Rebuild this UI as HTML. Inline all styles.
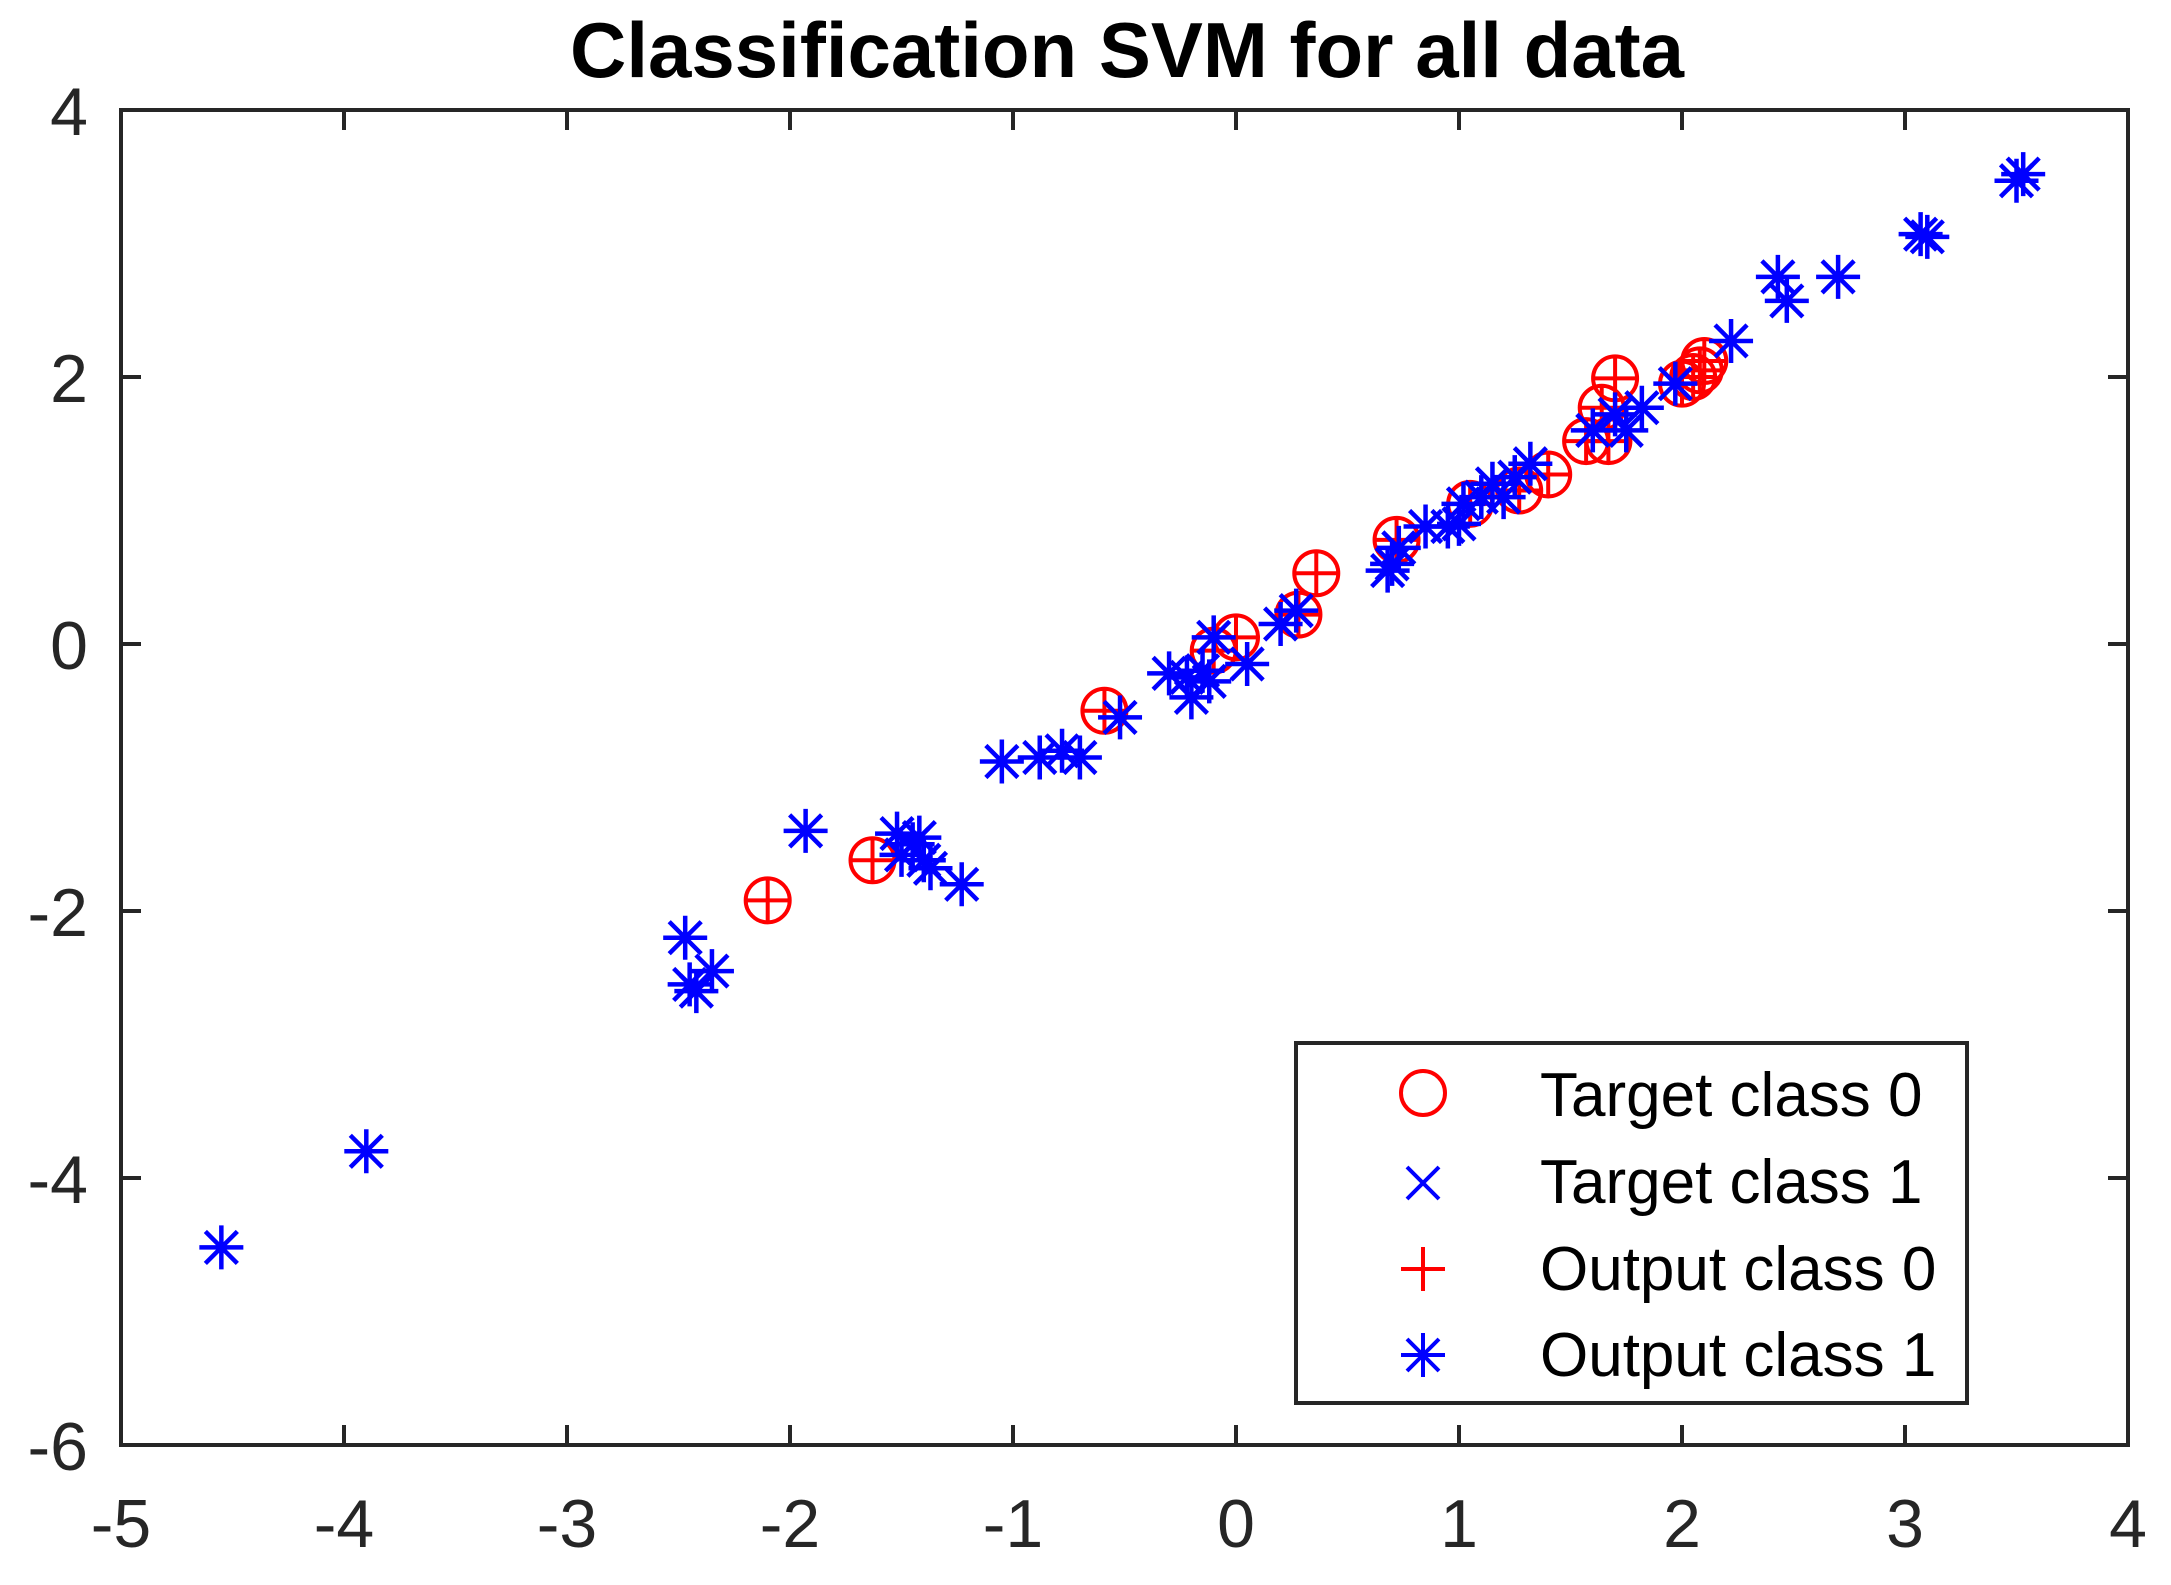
<!DOCTYPE html>
<html><head><meta charset="utf-8">
<style>
html,body{margin:0;padding:0;background:#fff;}
svg{display:block;font-family:"Liberation Sans",Arial,sans-serif;}
</style></head>
<body>
<svg id="chart" width="2171" height="1585" viewBox="0 0 2171 1585" xmlns="http://www.w3.org/2000/svg">
<rect width="2171" height="1585" fill="#fff"/>
<text x="1127" y="77" text-anchor="middle" font-size="78" font-weight="bold" fill="#000">Classification SVM for all data</text>
<g id="marks"></g>
<g id="axes"></g>
<g>
<rect x="1296" y="1043" width="671" height="360" fill="#fff" stroke="#262626" stroke-width="4"/>
<g>
<circle cx="1423" cy="1093" r="22" fill="none" stroke="#f00" stroke-width="4"/>
<text x="1540" y="1116" font-size="62" fill="#000">Target class 0</text></g>
<g>
<path d="M1407 1167 L1439 1199 M1439 1167 L1407 1199" stroke="#00f" stroke-width="4"/>
<text x="1540" y="1203" font-size="62" fill="#000">Target class 1</text></g>
<g>
<path d="M1401 1269 L1445 1269 M1423 1247 L1423 1291" stroke="#f00" stroke-width="4"/>
<text x="1540" y="1290" font-size="62" fill="#000">Output class 0</text></g>
<g>
<path d="M1401 1355 L1445 1355 M1423 1333 L1423 1377 M1407 1339 L1439 1371 M1439 1339 L1407 1371" stroke="#00f" stroke-width="4"/>
<text x="1540" y="1376" font-size="62" fill="#000">Output class 1</text></g>
</g>
</svg>
<script>
const class0X = [-2.1,-1.63,-0.59,-0.1,0.0,0.28,0.36,0.72,1.05,1.27,1.4,1.57,1.67,1.64,1.7,2.0,2.05,2.08,2.1];
const class0Y = [-1.92,-1.62,-0.5,-0.05,0.05,0.22,0.53,0.78,1.05,1.15,1.27,1.52,1.52,1.77,1.99,1.95,2.0,2.05,2.12];
const class1X = [-4.55,-3.9,-2.47,-2.45,-2.42,-2.35,-1.93,-1.52,-1.5,-1.45,-1.42,-1.4,-1.37,-1.23,-1.05,-0.88,-0.78,-0.7,-0.52,-0.3,-0.22,-0.2,-0.15,-0.12,-0.1,0.05,0.2,0.27,0.68,0.7,0.73,0.85,0.95,1.0,1.02,1.1,1.15,1.2,1.25,1.32,1.6,1.7,1.75,1.82,1.97,2.22,2.43,2.47,2.7,3.07,3.1,3.5,3.53];
const class1Y = [-4.52,-3.8,-2.2,-2.55,-2.6,-2.45,-1.4,-1.42,-1.58,-1.5,-1.45,-1.62,-1.68,-1.8,-0.88,-0.85,-0.8,-0.85,-0.55,-0.22,-0.25,-0.4,-0.2,-0.28,0.05,-0.15,0.15,0.25,0.55,0.6,0.72,0.88,0.88,0.9,1.05,1.1,1.2,1.1,1.25,1.35,1.6,1.72,1.6,1.77,1.95,2.27,2.75,2.57,2.75,3.07,3.05,3.47,3.52];
const xTicks = [-5,-4,-3,-2,-1,0,1,2,3,4];
const yTicks = [-6,-4,-2,0,2,4];

const L=121,R=2128,T=110,B=1445,XMIN=-5,XMAX=4,YMIN=-6,YMAX=4;
const sx=v=>L+(v-XMIN)/(XMAX-XMIN)*(R-L);
const sy=v=>B-(v-YMIN)/(YMAX-YMIN)*(B-T);
const NS="http://www.w3.org/2000/svg";
const marks=document.getElementById('marks');
const axes=document.getElementById('axes');
function mk(tag,attrs,parent){const e=document.createElementNS(NS,tag);for(const k in attrs)e.setAttribute(k,attrs[k]);parent.appendChild(e);return e;}

class0X.forEach((xv,i)=>{
  const x=sx(xv),y=sy(class0Y[i]);
  const g=mk('g',{},marks);
  
  
  mk('circle',{cx:x,cy:y,r:22,fill:'none',stroke:'#f00','stroke-width':4},g);
  mk('path',{d:`M${x-22} ${y} L${x+22} ${y} M${x} ${y-22} L${x} ${y+22}`,stroke:'#f00','stroke-width':4},g);
});
class1X.forEach((xv,i)=>{
  const x=sx(xv),y=sy(class1Y[i]);
  const g=mk('g',{},marks);
  
  
  const d=16;
  mk('path',{d:`M${x-22} ${y} L${x+22} ${y} M${x} ${y-22} L${x} ${y+22} M${x-d} ${y-d} L${x+d} ${y+d} M${x+d} ${y-d} L${x-d} ${y+d}`,stroke:'#00f','stroke-width':4.5},g);
});

const frame=mk('rect',{x:L,y:T,width:R-L,height:B-T,fill:'none',stroke:'#262626','stroke-width':4},axes);


xTicks.forEach(t=>{
  const x=sx(t);
  mk('path',{d:`M${x} ${B} L${x} ${B-20} M${x} ${T} L${x} ${T+20}`,stroke:'#262626','stroke-width':4},axes);
  const tx=mk('text',{x:x,y:1547,'text-anchor':'middle','font-size':68,fill:'#262626'},axes);
  tx.textContent=String(t);
  
  
});
yTicks.forEach(t=>{
  const y=sy(t);
  mk('path',{d:`M${L} ${y} L${L+20} ${y} M${R} ${y} L${R-20} ${y}`,stroke:'#262626','stroke-width':4},axes);
  const tx=mk('text',{x:88,y:y+25,'text-anchor':'end','font-size':68,fill:'#262626'},axes);
  tx.textContent=String(t);
  
  
});
</script>
</body></html>
